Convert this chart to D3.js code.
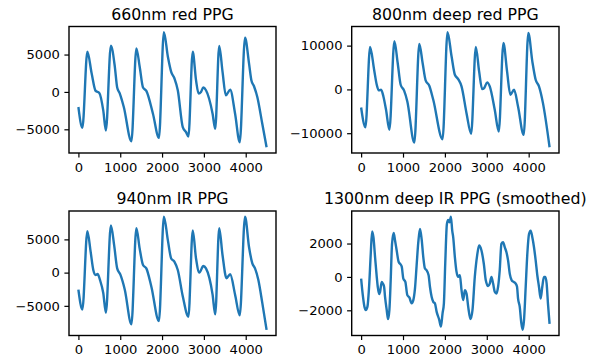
<!DOCTYPE html>
<html><head><meta charset="utf-8">
<script src="https://cdn.jsdelivr.net/npm/d3@7"></script>
<style>
body{margin:0;background:#fff}
svg{display:block}
text{font-family:"DejaVu Sans",sans-serif;fill:#000}
</style>
</head><body>
<svg id="chart" width="600" height="360"></svg>
<script>
// ---------- data ----------
const titles = ["660nm red PPG", "800nm deep red PPG", "940nm IR PPG", "1300nm deep IR PPG (smoothed)"];
const xTicks = [0, 1000, 2000, 3000, 4000];
const yTicks660 = [-5000, 0, 5000];
const yTicks800 = [-10000, 0, 10000];
const yTicks940 = [-5000, 0, 5000];
const yTicks1300 = [-2000, 0, 2000];

const sample660 = [0,95,214,317,412,499,594,657,776,871,927,990,1085,1267,1386,1465,1545,1624,1782,1925,2044,2139,2218,2297,2376,2495,2574,2630,2733,2812,2875,2931,2986,3050,3208,3271,3366,3446,3525,3628,3746,3857,3984,4079,4135,4198,4277,4396,4499];
const ppg660 = [-2018,-4798,5381,2466,135,-135,-2466,-5157,6188,3363,583,-224,-2018,-6592,5830,3363,583,135,-2915,-6143,7982,4709,2691,1794,224,-4709,-5381,-5964,5381,1570,-224,0,583,224,-2915,-4933,6143,2691,-448,314,-2915,-6726,7265,3812,1570,762,-673,-4260,-7399];

const sample800 = [0,103,214,310,373,420,476,532,595,675,794,873,944,1024,1103,1270,1389,1468,1540,1627,1722,1944,2063,2159,2238,2317,2397,2516,2627,2738,2817,2889,2937,3008,3071,3190,3286,3397,3484,3563,3651,3746,3881,3992,4087,4167,4246,4341,4499];
const ppg800 = [-4122,-8626,9695,4504,1069,-229,-76,-1603,-4656,-9237,10992,6031,1069,-229,-2748,-12137,10382,6031,2061,840,-2366,-11374,13053,7557,3359,2366,687,-5420,-10153,9695,4122,76,305,1603,687,-4656,-9618,10611,4122,-1221,-76,-3893,-10382,12901,6412,2214,687,-3130,-13206];

const sample940 = [0,95,214,293,356,412,460,515,594,657,776,855,927,1006,1109,1267,1386,1465,1545,1624,1743,1925,2044,2139,2218,2297,2376,2495,2630,2733,2812,2891,2986,3050,3208,3271,3366,3446,3541,3628,3746,3857,3984,4079,4158,4222,4301,4396,4499];
const ppg940 = [-2570,-5540,6240,3120,400,-350,-200,-1090,-3070,-6040,7080,4100,640,-350,-2570,-7770,6680,3610,1140,640,-2080,-7280,8420,4850,2130,1630,400,-3560,-6630,6340,2130,0,990,640,-3320,-6290,6680,2620,-840,-250,-3320,-6440,8420,3860,1390,640,-1090,-4550,-8610];

const sample1300 = [0,40,79,111,151,190,230,262,294,333,373,397,429,452,492,520,548,571,611,643,675,706,738,778,810,849,897,929,968,1008,1056,1103,1151,1206,1246,1286,1325,1365,1405,1444,1484,1524,1563,1611,1643,1683,1722,1762,1802,1865,1905,1944,1976,2008,2048,2079,2111,2143,2175,2198,2238,2278,2317,2357,2397,2437,2476,2516,2556,2611,2659,2714,2770,2817,2873,2929,2976,3032,3071,3111,3151,3190,3230,3270,3309,3349,3389,3429,3468,3508,3548,3595,3643,3690,3722,3746,3786,3825,3857,3889,3929,3968,4008,4048,4087,4127,4167,4206,4246,4286,4325,4365,4397,4429,4460,4499];
const ppg1300 = [-100,-1090,-1780,-1980,-1780,-590,1390,2730,2380,1190,0,-590,-1030,-900,-300,-400,-590,-1190,-1980,-2530,-1980,-200,1980,2630,2180,1580,890,790,630,-100,-300,-1090,-1230,-1580,-1390,-690,690,2080,2870,2280,1190,500,400,100,-590,-1190,-1490,-1580,-2080,-2570,-2970,-2180,-1580,790,3170,3410,3270,3610,2770,2380,1190,300,0,100,-790,-1390,-790,-990,-1780,-2530,-1980,0,1290,1880,1580,790,-200,-550,-400,0,-400,-890,-990,-590,400,1980,2080,1780,1490,990,200,-200,-300,-400,-590,-1290,-1780,-2770,-3170,-2570,-590,1390,2570,2770,2380,1780,990,100,-590,-1290,-590,0,0,-400,-1580,-2810];

// ---------- layout ----------
const svg = d3.select("#chart");
const panels = [
  {title: titles[0], xs: sample660,  ys: ppg660,  yTicks: yTicks660,  left: 69,    right: 276, top: 26.5, bottom: 153},
  {title: titles[1], xs: sample800,  ys: ppg800,  yTicks: yTicks800,  left: 351.7, right: 559, top: 26.5, bottom: 153},
  {title: titles[2], xs: sample940,  ys: ppg940,  yTicks: yTicks940,  left: 69,    right: 276, top: 211,  bottom: 335.5},
  {title: titles[3], xs: sample1300, ys: ppg1300, yTicks: yTicks1300, left: 351.7, right: 559, top: 211,  bottom: 335.5}
];

function padded(ext) {
  const m = (ext[1] - ext[0]) * 0.05;
  return [ext[0] - m, ext[1] + m];
}

const tickLen = 4.6, tickPad = 4.6, tickFont = 13.1, titleFont = 15.75;
const fmt = d3.format("d");

panels.forEach((p, i) => {
  const x = d3.scaleLinear().domain(padded(d3.extent(p.xs))).range([p.left, p.right]);
  const y = d3.scaleLinear().domain(padded(d3.extent(p.ys))).range([p.bottom, p.top]);
  const g = svg.append("g");

  g.append("clipPath").attr("id", "clip" + i)
    .append("rect").attr("x", p.left).attr("y", p.top)
    .attr("width", p.right - p.left).attr("height", p.bottom - p.top);

  const pts = d3.zip(p.xs, p.ys);
  const line = d3.line().x(d => x(d[0])).y(d => y(d[1])).curve(d3.curveMonotoneX);
  g.append("path").attr("d", line(pts))
    .attr("clip-path", `url(#clip${i})`)
    .attr("fill", "none").attr("stroke", "#1f77b4")
    .attr("stroke-width", 2.4).attr("stroke-linejoin", "round").attr("stroke-linecap", "butt");

  // axes
  const ax = g.append("g").attr("transform", `translate(0,${p.bottom})`)
    .call(d3.axisBottom(x).tickValues(xTicks).tickFormat(fmt).tickSize(tickLen).tickPadding(tickPad));
  const ay = g.append("g").attr("transform", `translate(${p.left},0)`)
    .call(d3.axisLeft(y).tickValues(p.yTicks).tickFormat(fmt).tickSize(tickLen).tickPadding(tickPad));
  [ax, ay].forEach(a => {
    a.select(".domain").remove();
    a.selectAll(".tick line").attr("stroke", "#000").attr("stroke-width", 1.2);
    a.selectAll(".tick text").attr("font-family", "DejaVu Sans").attr("font-size", tickFont).attr("fill", "#000");
  });

  // frame
  g.append("rect").attr("x", p.left).attr("y", p.top)
    .attr("width", p.right - p.left).attr("height", p.bottom - p.top)
    .attr("fill", "none").attr("stroke", "#000").attr("stroke-width", 1.4);

  // title
  g.append("text").attr("x", (p.left + p.right) / 2).attr("y", p.top - 6.8)
    .attr("text-anchor", "middle").attr("font-size", titleFont).text(p.title);
});
</script>
</body></html>
